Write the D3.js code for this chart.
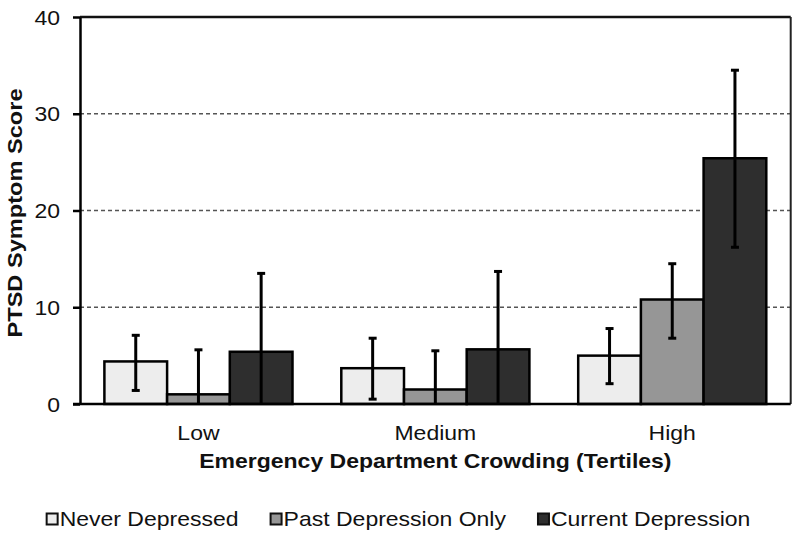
<!DOCTYPE html>
<html><head><meta charset="utf-8">
<script src="https://cdn.jsdelivr.net/npm/d3@7"></script>
<style>body{margin:0;background:#fff}svg{display:block}text{font-family:"Liberation Sans",Arial,sans-serif;fill:#111}</style>
</head><body><svg id="c" width="800" height="539"></svg>
<script>
const categories = ["Low", "Medium", "High"];
const seriesNames = ["Never Depressed", "Past Depression Only", "Current Depression"];
const neverVals = [4.4, 3.7, 5.0];
const neverLo = [1.4, 0.5, 2.1];
const neverHi = [7.1, 6.8, 7.8];
const pastVals = [1.0, 1.5, 10.8];
const pastLo = [-3.6, -2.5, 6.8];
const pastHi = [5.6, 5.5, 14.5];
const currentVals = [5.4, 5.65, 25.4];
const currentLo = [-2.7, -2.4, 16.2];
const currentHi = [13.5, 13.7, 34.5];
const yTicks = [0, 10, 20, 30, 40];
const colors = ["#ededed", "#969696", "#2e2e2e"];

const seriesVals = [neverVals, pastVals, currentVals];
const seriesLo = [neverLo, pastLo, currentLo];
const seriesHi = [neverHi, pastHi, currentHi];

const SX = 1.15;
const svg = d3.select("#c");
const L = 80, R = 790.7, T = 17, B = 404;

const x0 = d3.scaleBand().domain(categories).range([L, R]).paddingInner(0.206).paddingOuter(0.103);
const x1 = d3.scaleBand().domain(seriesNames).range([0, x0.bandwidth()]);
const y = d3.scaleLinear().domain([0, 40]).range([B, T]).clamp(true);

function stretchText(sel, x, yy, anchor, rot, sx) {
  sel.attr("text-anchor", anchor)
     .attr("transform", `translate(${x},${yy})${rot ? " rotate(" + rot + ")" : ""} scale(${sx || SX},1)`);
  return sel;
}

// gridlines
svg.append("g").selectAll("line").data(yTicks.filter(d => d > 0 && d < 40)).join("line")
  .attr("x1", L).attr("x2", R).attr("y1", d => y(d)).attr("y2", d => y(d))
  .attr("stroke", "#555").attr("stroke-width", 1.4).attr("stroke-dasharray", "4,3");

// bars
const rows = [];
categories.forEach((c, i) => seriesNames.forEach((s, j) => rows.push({c, s, j, v: seriesVals[j][i], lo: seriesLo[j][i], hi: seriesHi[j][i]})));
svg.append("g").selectAll("rect").data(rows).join("rect")
  .attr("x", d => x0(d.c) + x1(d.s)).attr("width", x1.bandwidth())
  .attr("y", d => y(d.v)).attr("height", d => B - y(d.v))
  .attr("fill", d => colors[d.j]).attr("stroke", "#000").attr("stroke-width", 2.5);

// error bars
const eg = svg.append("g").attr("stroke", "#000").attr("stroke-width", 3);
rows.forEach(d => {
  const cx = x0(d.c) + x1(d.s) + x1.bandwidth() / 2;
  eg.append("line").attr("x1", cx).attr("x2", cx).attr("y1", y(d.hi)).attr("y2", y(d.lo));
  eg.append("line").attr("x1", cx - 4).attr("x2", cx + 4).attr("y1", y(d.hi)).attr("y2", y(d.hi));
  if (d.lo > 0) eg.append("line").attr("x1", cx - 4).attr("x2", cx + 4).attr("y1", y(d.lo)).attr("y2", y(d.lo));
});

// frame
svg.append("line").attr("x1", L).attr("x2", R).attr("y1", T).attr("y2", T).attr("stroke", "#111").attr("stroke-width", 2.5);
svg.append("line").attr("x1", R).attr("x2", R).attr("y1", T).attr("y2", B).attr("stroke", "#222").attr("stroke-width", 2);

// y axis
const yAxis = d3.axisLeft(y).tickValues(yTicks).tickSize(7).tickSizeOuter(0).tickPadding(13);
const ya = svg.append("g").attr("transform", `translate(${L},0)`).call(yAxis);
ya.select(".domain").attr("stroke", "#000").attr("stroke-width", 2.5);
ya.selectAll(".tick line").attr("stroke", "#000").attr("stroke-width", 2.5);
ya.selectAll(".tick text").attr("font-size", 20).attr("font-family", "Liberation Sans, Arial, sans-serif").attr("fill", "#111")
  .attr("dy", "0.36em")
  .each(function () {
    const t = d3.select(this);
    const xx = +t.attr("x");
    t.attr("x", null).attr("transform", `translate(${xx},0) scale(${SX},1)`);
  });

// x axis
const xAxis = d3.axisBottom(x0).tickSize(0).tickSizeOuter(0).tickPadding(0);
const xa = svg.append("g").attr("transform", `translate(0,${B})`).call(xAxis);
xa.select(".domain").attr("d", `M${L - 7},0H${R}`).attr("stroke", "#000").attr("stroke-width", 2.5);
xa.selectAll(".tick text").attr("font-size", 20).attr("font-family", "Liberation Sans, Arial, sans-serif").attr("fill", "#111")
  .attr("y", null).attr("dy", null)
  .attr("transform", `translate(0,36) scale(${SX},1)`);

// axis titles
stretchText(svg.append("text").text("Emergency Department Crowding (Tertiles)")
  .attr("font-size", 20).attr("font-weight", "bold"), (L + R) / 2, 468, "middle");
stretchText(svg.append("text").text("PTSD Symptom Score")
  .attr("font-size", 20).attr("font-weight", "bold"), 21.5, 213, "middle", -90, 1.18);

// legend
const lg = svg.append("g");
const items = seriesNames.map((s, j) => {
  const g = lg.append("g");
  g.append("rect").attr("x", 1).attr("y", -12).attr("width", 11).attr("height", 11)
    .attr("fill", colors[j]).attr("stroke", "#111").attr("stroke-width", 2);
  const t = g.append("text").text(s).attr("font-size", 20).attr("transform", `translate(14,0) scale(${SX},1)`);
  return {g, w: 14 + t.node().getComputedTextLength() * SX};
});
const gap = 31;
const total = d3.sum(items, d => d.w) + gap * (items.length - 1);
let cx = 398 - total / 2;
items.forEach(it => { it.g.attr("transform", `translate(${cx},525.5)`); cx += it.w + gap; });
</script></body></html>
